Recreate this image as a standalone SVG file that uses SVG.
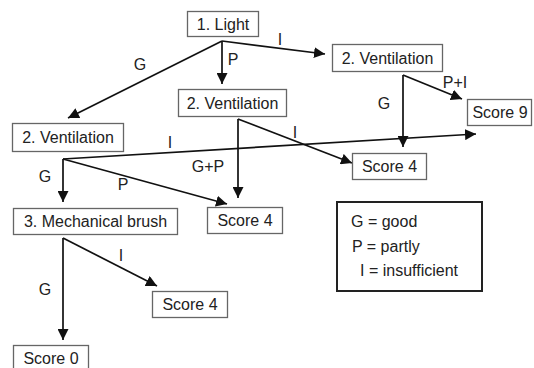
<svg xmlns="http://www.w3.org/2000/svg" width="534" height="368" viewBox="0 0 534 368">
<style>
.box{fill:#fff;stroke:#666;stroke-width:1.3}
.legend{fill:#fff;stroke:#222;stroke-width:2}
text{font-family:"Liberation Sans",Arial,sans-serif;font-size:16px;fill:#222}
.c{text-anchor:middle}
.e{stroke:#111;stroke-width:1.7;fill:none;marker-end:url(#ah)}
</style>
<defs>
<marker id="ah" markerUnits="userSpaceOnUse" markerWidth="11" markerHeight="11" refX="11" refY="5.5" orient="auto" viewBox="0 0 11 11">
<path d="M0,0 L11,5.5 L0,11 z" fill="#111"/>
</marker>
</defs>
<rect width="534" height="368" fill="#fff"/>
<g id="connectors">
<line class="e" x1="222" y1="41" x2="68" y2="118"/>
<line class="e" x1="222" y1="41" x2="222" y2="84"/>
<line class="e" x1="222" y1="41" x2="325" y2="54"/>
<line class="e" x1="403" y1="75" x2="462" y2="99"/>
<line class="e" x1="403" y1="75" x2="403" y2="147"/>
<line class="e" x1="238" y1="119" x2="352" y2="163"/>
<line class="e" x1="238" y1="119" x2="238" y2="198"/>
<line class="e" x1="63" y1="159" x2="476" y2="134"/>
<line class="e" x1="63" y1="159" x2="63" y2="202"/>
<line class="e" x1="63" y1="159" x2="227" y2="204"/>
<line class="e" x1="63" y1="238" x2="157" y2="286"/>
<line class="e" x1="63" y1="238" x2="63" y2="340"/>
<text x="140" y="70" class="c">G</text>
<text x="233" y="65" class="c">P</text>
<text x="280" y="45" class="c">I</text>
<text x="455" y="88" class="c">P+I</text>
<text x="384" y="109" class="c">G</text>
<text x="295" y="138" class="c">I</text>
<text x="170" y="148" class="c">I</text>
<text x="208" y="172" class="c">G+P</text>
<text x="45" y="182" class="c">G</text>
<text x="123" y="190" class="c">P</text>
<text x="121" y="261" class="c">I</text>
<text x="45" y="295" class="c">G</text>
</g>
<g id="light"><rect class="box" x="187.5" y="11.5" width="71" height="25"/><text x="223" y="30" class="c">1. Light</text></g>
<g id="vent-right"><rect class="box" x="332.5" y="44.5" width="110" height="27"/><text x="387.5" y="64" class="c">2. Ventilation</text></g>
<g id="vent-mid"><rect class="box" x="178.5" y="89.5" width="108" height="27"/><text x="232.5" y="109" class="c">2. Ventilation</text></g>
<g id="vent-left"><rect class="box" x="12.5" y="123.5" width="111" height="28"/><text x="68" y="143" class="c">2. Ventilation</text></g>
<g id="score9"><rect class="box" x="467.5" y="99.5" width="64" height="26"/><text x="500" y="118" class="c">Score 9</text></g>
<g id="score4a"><rect class="box" x="352.5" y="153.5" width="74" height="26"/><text x="389.5" y="172" class="c">Score 4</text></g>
<g id="score4b"><rect class="box" x="207.5" y="207.5" width="75" height="26"/><text x="245" y="226" class="c">Score 4</text></g>
<g id="mech"><rect class="box" x="13.5" y="208.5" width="164" height="26"/><text x="95.5" y="227" class="c">3. Mechanical brush</text></g>
<g id="score4c"><rect class="box" x="152.5" y="291.5" width="75" height="26"/><text x="190" y="310" class="c">Score 4</text></g>
<g id="score0"><rect class="box" x="13.5" y="345.5" width="75" height="27"/><text x="51" y="364" class="c">Score 0</text></g>
<g id="legend"><rect class="legend" x="337" y="202" width="145" height="89"/>
<text x="351" y="227">G = good</text>
<text x="352" y="252">P = partly</text>
<text x="360" y="276">I = insufficient</text>
</g>
</svg>
